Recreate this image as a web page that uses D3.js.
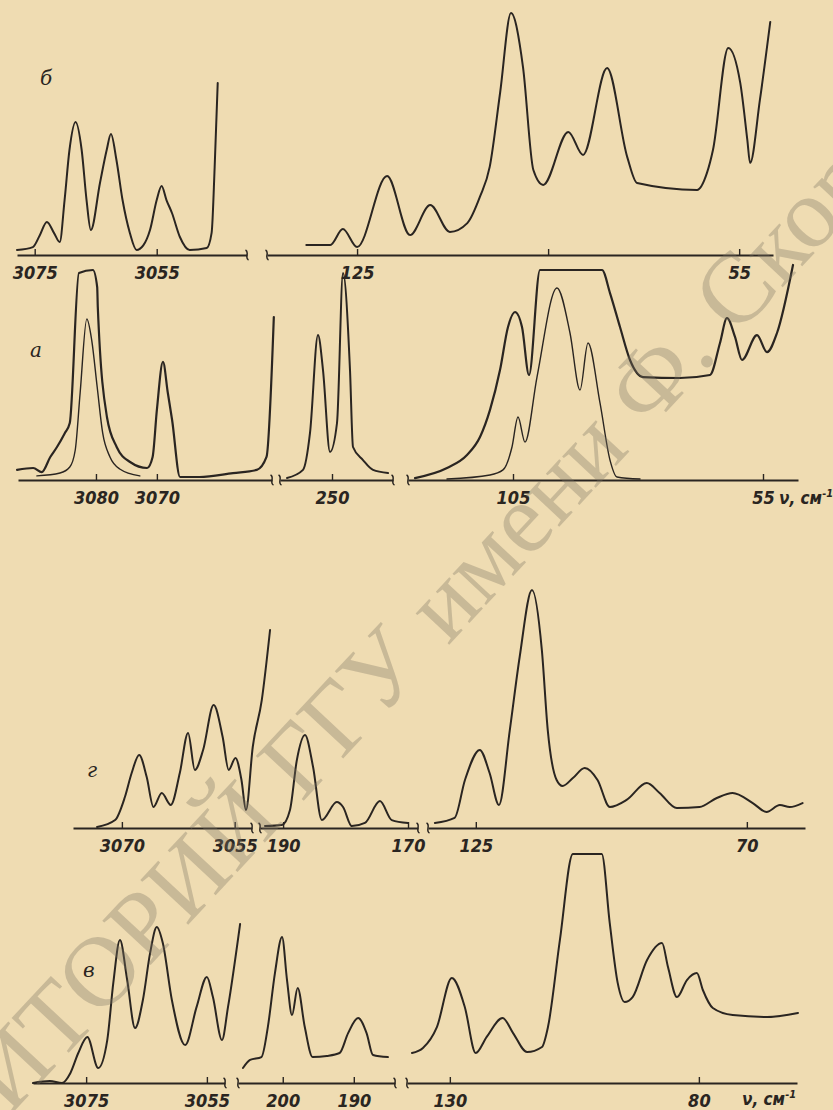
<!DOCTYPE html>
<html><head><meta charset="utf-8">
<script src="https://cdn.jsdelivr.net/npm/d3@7"></script>
<style>
html,body{margin:0;padding:0;background:#efdcb2;}
svg{display:block;}
</style></head><body>
<svg id="chart" width="833" height="1110"></svg>
<script>
// ---------- DATA ----------
const panelLabels = ["б", "а", "г", "в"];
const unitLabel = "ν, см";
const unitExp = "-1";

// axis domains (wavenumber, cm^-1) for each broken-axis segment
const b_domains = [[3077.9, 3040.2], [141.5, 48.8]];
const a_domains = [[3092.8, 3051.1], [260.4, 237.8], [126, 48]];
const g_domains = [[3076.5, 3052.7], [193.7, 168.4], [134.7, 58.2]];
const v_domains = [[3083.8, 3052.0], [206.3, 184.2], [138.6, 60.3]];

// tick values and labels
const b_ticks = [[3075, 3055], [125, 90, 55]];
const b_tickLabels = [["3075", "3055"], ["125", "", "55"]];
const a_ticks = [[3080, 3070], [250], [105, 55]];
const a_tickLabels = [["3080", "3070"], ["250"], ["105", "55"]];
const g_ticks = [[3070, 3055], [190, 170], [125, 70]];
const g_tickLabels = [["3070", "3055"], ["190", "170"], ["125", "70"]];
const v_ticks = [[3075, 3055], [200, 190], [130, 80]];
const v_tickLabels = [["3075", "3055"], ["200", "190"], ["130", "80"]];

// spectra: [wavenumber, relative intensity]
const b_seg1 = [[3077.9,2.1],[3075.3,3.3],[3074.2,8],[3073.0,13.75],[3071.8,9],[3070.9,5.4],[3070.1,22.9],[3069.3,43.75],[3068.3,55.4],[3067.3,43.75],[3066.5,22.9],[3065.8,10.4],[3064.3,30],[3063.2,43.75],[3062.5,50.4],[3061.6,39.6],[3060.6,22.9],[3059.4,9.2],[3058.3,2.1],[3057.2,4],[3056.1,10.4],[3055,22.9],[3054.2,28.75],[3053.4,22.9],[3052.5,17.5],[3051.2,7.5],[3049.6,2.1],[3046.8,2.9],[3046,9.2],[3045.5,36.7],[3045,71.7]];
const b_seg2 = [[134.3,4.2],[129.9,4.2],[127.6,10.8],[125,3.3],[119.5,32.9],[115.3,8.3],[111.6,20.8],[108.0,9.6],[104.8,13.3],[102.5,24.2],[100.7,36.7],[98.8,67.5],[96.8,100.8],[94.6,78.3],[92.7,35.4],[90.9,29.2],[86.3,51.3],[83.6,41.7],[79.2,77.9],[75.5,40.8],[73.7,30],[62.7,27.1],[60.9,34.2],[59.8,43.75],[57.0,86.25],[54.8,71.7],[53.5,47.9],[53.0,38.3],[51.2,64.6],[49.3,97.1]];

const a_seg1_thick = [[3092.95,4.2],[3090.3,5],[3088.9,3.3],[3087.5,9.6],[3086.4,13.75],[3085.1,19.6],[3084.3,23.75],[3082.8,86.25],[3080.5,87.5],[3079.8,80.4],[3079.7,72.1],[3078.2,26.25],[3076.6,13.75],[3074.4,7.5],[3071.6,5],[3070.7,9.6],[3070,29.2],[3069.0,49.2],[3068.2,36.25],[3067.5,25],[3066.2,1.25],[3063.0,1.25],[3057.5,2.9],[3053.6,4.2],[3052.0,9.6],[3050.8,67.9]];
const a_seg1_thin = [[3089.7,1.7],[3085.9,2.9],[3084.3,5.4],[3083.4,12.5],[3082.6,36.25],[3081.5,67.1],[3080.7,58.3],[3079.8,38.75],[3078.9,19.6],[3077.7,9.6],[3076.1,4.6],[3072.8,1.7]];
const a_seg2 = [[259.0,0.8],[255.8,4.2],[254.4,19.6],[252.8,60.4],[251.8,45.8],[250.4,11.7],[249.0,23.75],[247.8,86.25],[246.4,45.8],[245.8,13.75],[243.8,8.3],[241.8,4.2],[238.8,2.9]];
const a_seg3_thick = [[124.6,0.8],[118.2,5],[114.2,10.4],[111.6,17.9],[109.6,29.2],[107.6,45.8],[106,63.75],[104.6,70],[103.2,63.75],[101.8,43.75],[99.6,87.5],[87.2,87.5],[85.6,77.9],[83.6,63.75],[81.6,50],[79,42.9],[71.6,42.5],[65.6,43.75],[63.6,57.1],[62.2,67.5],[60.6,59.6],[59.2,50],[56.2,60.4],[54.2,53.3],[52.2,61.25],[49,89.6]];
const a_seg3_thin = [[118.2,0.4],[109.6,2.1],[107,4.2],[105.2,13.75],[104,26.25],[102.6,15.8],[100.2,42.9],[96.2,80],[93.6,61.25],[91.6,37.5],[90,57.1],[87.6,32.1],[85.6,8.3],[84.2,1.25],[79.6,0.4]];

const g_seg1 = [[3073.3,0.4],[3070.9,3.3],[3069.6,12.9],[3068.7,22.9],[3067.7,30.4],[3066.7,21.25],[3065.8,8.75],[3064.7,14.6],[3063.5,9.6],[3062.3,22.9],[3061.2,39.6],[3060.3,24.2],[3059.2,32.5],[3057.8,51.25],[3056.6,37.9],[3055.8,24.2],[3054.9,29.2],[3054.1,20],[3053.5,7.5],[3052.6,33.75],[3051.4,53.3],[3050.3,82.5]];
const g_seg2 = [[192.9,0.8],[190.2,1.25],[188.9,7.5],[187.8,28.3],[186.5,38.75],[185.2,25.4],[183.8,3.3],[181.4,10.8],[180.4,8.75],[179,0.8],[176.9,2.1],[174.5,11.25],[172.6,3.3],[170,2.1]];
const g_seg3 = [[133.3,2.1],[129.3,4.2],[127.2,20],[124.2,32.5],[122.2,22.9],[120.3,9.6],[118.1,40.8],[116.1,71.25],[113.6,99.2],[111.6,74.2],[110.4,40.8],[108.6,20],[107.4,17.5],[105.3,20.8],[102.9,25],[100.3,20],[97.8,8.75],[94.4,11.7],[90.3,18.75],[87.7,14.6],[84.2,8.3],[79.6,8.75],[76.1,12.5],[72.9,14.6],[68.8,10.4],[66,6.7],[63.3,9.6],[61.3,8.75],[58.7,10.4]];

const v_seg1 = [[3083.8,0],[3081,0.8],[3079,0],[3077.6,4.2],[3076.3,12.5],[3074.8,19.2],[3073,6.25],[3071.5,17.9],[3070.5,41.7],[3069.4,59.6],[3068.2,42.9],[3066.9,22.9],[3065.6,34.6],[3064.4,54.2],[3063.3,65],[3062.3,58.3],[3060.8,34.6],[3058.6,15.8],[3056.7,31.7],[3055,44.2],[3054,35.8],[3052.5,17.9],[3051.5,31.7],[3049.5,66.25]];
const v_seg2 = [[205.6,6.25],[204.6,9.6],[203,10.8],[202.1,23.3],[201.1,45.8],[200.1,60.8],[199.4,42.9],[198.7,28.3],[197.9,39.6],[196.9,23.3],[195.8,10.8],[193.8,11.25],[192,12.5],[190.8,20.8],[189.4,27.1],[188.2,20.8],[187.3,11.7],[185.2,10.8]];
const v_seg3 = [[137.6,12.5],[135.4,14.6],[132.6,23.3],[129.6,43.75],[127,31.7],[124.8,12.5],[122.6,19.2],[119.4,27.1],[117.3,20.8],[114.5,12.9],[111.5,15],[110.3,23.3],[107.9,59.6],[105.3,95.4],[99.5,95.4],[97.9,66.7],[96.3,41.7],[94.9,33.75],[93.3,35.8],[90.4,51.25],[87.4,58.3],[86.2,48.3],[84.4,35.8],[82.4,42.9],[80.4,45.8],[79.2,38.75],[77.2,31.25],[73.2,28.3],[66.3,27.5],[60.1,29.2]];

const watermarkA = "РЕПОЗИТОРИЙ ГГУ";
const watermarkB = "имени Ф. Скорины";

// ---------- LAYOUT ----------
const W = 833, H = 1110;
const BG = "#efdcb2", INK = "#2a2521";
const FONT = "'Liberation Sans Narrow','DejaVu Sans Condensed','Arial Narrow',sans-serif";

const panels = [
  { label: panelLabels[0], axisY: 255, labelPos: [40, 85],
    segs: [
      { px: [17, 247], domain: b_domains[0], ticks: b_ticks[0], labels: b_tickLabels[0], bl: false, br: true },
      { px: [267, 773], domain: b_domains[1], ticks: b_ticks[1], labels: b_tickLabels[1], bl: true, br: false }],
    traces: [{ seg: 0, data: b_seg1, w: 2 }, { seg: 1, data: b_seg2, w: 2 }] },
  { label: panelLabels[1], axisY: 480, labelPos: [30, 357], unit: [779, 504],
    segs: [
      { px: [18, 272], domain: a_domains[0], ticks: a_ticks[0], labels: a_tickLabels[0], bl: false, br: true },
      { px: [280, 393], domain: a_domains[1], ticks: a_ticks[1], labels: a_tickLabels[1], bl: true, br: true },
      { px: [408, 798], domain: a_domains[2], ticks: a_ticks[2], labels: a_tickLabels[2], bl: true, br: false }],
    traces: [{ seg: 0, data: a_seg1_thick, w: 2.2 }, { seg: 0, data: a_seg1_thin, w: 1.4 },
             { seg: 1, data: a_seg2, w: 2 },
             { seg: 2, data: a_seg3_thick, w: 2.2 }, { seg: 2, data: a_seg3_thin, w: 1.4 }] },
  { label: panelLabels[2], axisY: 828, labelPos: [87, 777],
    segs: [
      { px: [73, 252], domain: g_domains[0], ticks: g_ticks[0], labels: g_tickLabels[0], bl: false, br: true },
      { px: [260, 418], domain: g_domains[1], ticks: g_ticks[1], labels: g_tickLabels[1], bl: true, br: true },
      { px: [428, 805], domain: g_domains[2], ticks: g_ticks[2], labels: g_tickLabels[2], bl: true, br: false }],
    traces: [{ seg: 0, data: g_seg1, w: 2 }, { seg: 1, data: g_seg2, w: 2 }, { seg: 2, data: g_seg3, w: 2 }] },
  { label: panelLabels[3], axisY: 1083, labelPos: [83, 977], unit: [742, 1105],
    segs: [
      { px: [33, 225], domain: v_domains[0], ticks: v_ticks[0], labels: v_tickLabels[0], bl: false, br: true },
      { px: [238, 395], domain: v_domains[1], ticks: v_ticks[1], labels: v_tickLabels[1], bl: true, br: true },
      { px: [407, 797], domain: v_domains[2], ticks: v_ticks[2], labels: v_tickLabels[2], bl: true, br: false }],
    traces: [{ seg: 0, data: v_seg1, w: 2 }, { seg: 1, data: v_seg2, w: 2 }, { seg: 2, data: v_seg3, w: 2 }] }
];

// ---------- DRAW ----------
const svg = d3.select("#chart");
svg.append("rect").attr("width", W).attr("height", H).attr("fill", BG);

function breakPath(x, y) {
  return `M${x - 1.5},${y - 5} C${x + 3},${y - 3} ${x - 3},${y + 3} ${x + 1.5},${y + 5}`;
}

panels.forEach(p => {
  const g = svg.append("g");
  const y = d3.scaleLinear().domain([0, 100]).range([p.axisY, p.axisY - 240]);
  const xs = p.segs.map(s => d3.scaleLinear().domain(s.domain).range(s.px));

  p.segs.forEach((s, i) => {
    const axis = d3.axisBottom(xs[i]).tickValues(s.ticks)
      .tickFormat((d, k) => s.labels[k]).tickSize(-6).tickSizeOuter(0).tickPadding(11);
    const ag = g.append("g").attr("transform", `translate(0,${p.axisY})`).call(axis);
    ag.attr("font-family", null).attr("font-size", null);
    ag.select(".domain").attr("stroke", INK).attr("stroke-width", 1.8);
    ag.selectAll(".tick line").attr("stroke", INK).attr("stroke-width", 1.4);
    ag.selectAll(".tick text").attr("fill", INK)
      .style("font-family", FONT).style("font-style", "italic")
      .style("font-size", "18px").style("font-weight", "bold");
    if (s.bl) g.append("path").attr("d", breakPath(s.px[0], p.axisY)).attr("fill", "none").attr("stroke", INK).attr("stroke-width", 1.5);
    if (s.br) g.append("path").attr("d", breakPath(s.px[1], p.axisY)).attr("fill", "none").attr("stroke", INK).attr("stroke-width", 1.5);
  });

  p.traces.forEach(t => {
    const line = d3.line().x(d => xs[t.seg](d[0])).y(d => y(d[1])).curve(d3.curveMonotoneX);
    g.append("path").datum(t.data).attr("d", line)
      .attr("fill", "none").attr("stroke", INK).attr("stroke-width", t.w)
      .attr("stroke-linejoin", "round").attr("stroke-linecap", "round");
  });

  g.append("text").attr("x", p.labelPos[0]).attr("y", p.labelPos[1]).text(p.label)
    .attr("fill", INK).style("font-family", "'DejaVu Serif','Liberation Serif',serif")
    .style("font-style", "italic").style("font-size", "20px");

  if (p.unit) {
    const t = g.append("text").attr("x", p.unit[0]).attr("y", p.unit[1]).attr("fill", INK)
      .style("font-family", FONT).style("font-style", "italic").style("font-size", "17px").style("font-weight", "bold");
    t.append("tspan").text(unitLabel);
    t.append("tspan").attr("dy", -7).style("font-size", "11px").text(unitExp);
  }
});

// scanned watermark
const wm = svg.append("g").attr("transform", "translate(448,646) rotate(-47)")
  .attr("fill", "#7d7565").attr("fill-opacity", 0.34)
  .style("font-family", "'Liberation Serif','DejaVu Serif',serif").style("font-size", "100px");
wm.append("text").attr("x", -28).attr("y", 0).attr("text-anchor", "end").text(watermarkA);
wm.append("text").attr("x", 0).attr("y", 0).attr("text-anchor", "start").text(watermarkB);
</script>
</body></html>
